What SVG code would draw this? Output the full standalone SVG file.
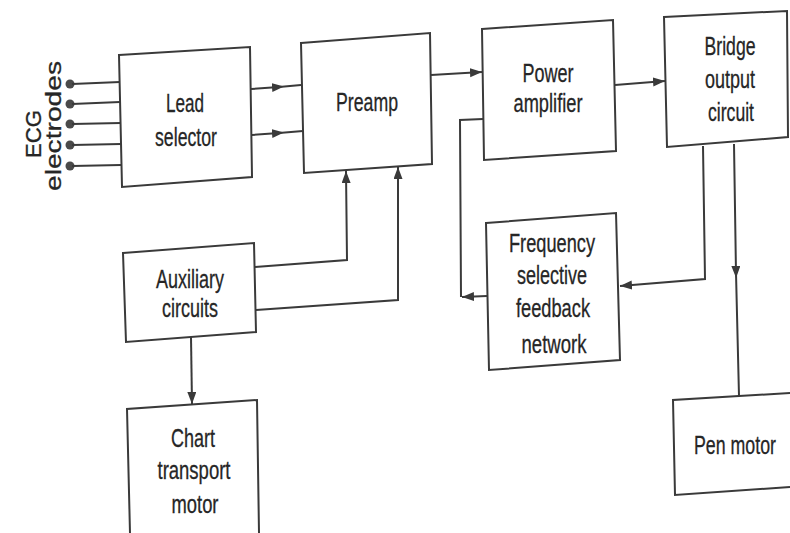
<svg xmlns="http://www.w3.org/2000/svg" width="790" height="533" viewBox="0 0 790 533">
<defs>
<marker id="arrow" markerUnits="userSpaceOnUse" markerWidth="14" markerHeight="10" refX="12" refY="4.5" orient="auto">
<path d="M0,0 L12,4.5 L0,9 z" fill="#3a3a3a"/>
</marker>
<marker id="arrowMid" markerUnits="userSpaceOnUse" markerWidth="14" markerHeight="10" refX="7" refY="4.5" orient="auto">
<path d="M0,0 L12,4.5 L0,9 z" fill="#3a3a3a"/>
</marker>
</defs>
<style>
.box{fill:#fff;stroke:#3a3a3a;stroke-width:2;stroke-linejoin:miter}
.ln{fill:none;stroke:#3a3a3a;stroke-width:2}
.t{font-family:"Liberation Sans",Arial,sans-serif;font-size:26px;fill:#262626;stroke:#262626;stroke-width:0.3;text-anchor:middle}
.v{font-family:"Liberation Sans",Arial,sans-serif;fill:#262626;stroke:#262626;stroke-width:0.3;text-anchor:middle}
.dot{fill:#4a4a4a}
</style>
<rect width="790" height="533" fill="#fff"/>

<g id="ecg-electrodes">
<text class="v" font-size="22" x="41" y="134" transform="rotate(-90 41 134)" textLength="48" lengthAdjust="spacingAndGlyphs">ECG</text>
<text class="v" font-size="22" x="61" y="126" transform="rotate(-90 61 126)" textLength="130" lengthAdjust="spacingAndGlyphs">electrodes</text>
<circle class="dot" cx="70" cy="84" r="4.5"/>
<circle class="dot" cx="70" cy="104" r="4.5"/>
<circle class="dot" cx="70" cy="124" r="4.5"/>
<circle class="dot" cx="70" cy="145" r="4.5"/>
<circle class="dot" cx="70" cy="166" r="4.5"/>
</g>

<g id="connectors">
<line class="ln" x1="72" y1="84" x2="120" y2="82"/>
<line class="ln" x1="72" y1="104" x2="120" y2="102"/>
<line class="ln" x1="72" y1="124" x2="121" y2="123"/>
<line class="ln" x1="72" y1="145" x2="121" y2="144"/>
<line class="ln" x1="72" y1="166" x2="121" y2="165"/>
<polyline class="ln" points="251,89 279,87 301,85" marker-mid="url(#arrowMid)"/>
<polyline class="ln" points="252,135 279,133 303,131" marker-mid="url(#arrowMid)"/>
<line class="ln" x1="431" y1="75" x2="482" y2="72" marker-end="url(#arrow)"/>
<line class="ln" x1="615" y1="85" x2="665" y2="81" marker-end="url(#arrow)"/>
<line class="ln" x1="487" y1="296" x2="462" y2="297" marker-end="url(#arrow)"/>
<polyline class="ln" points="461,297 460,120 483,119"/>
<polyline class="ln" points="703,146 705,279 620,286" marker-end="url(#arrow)"/>
<polyline class="ln" points="734,144 736,273 739,396" marker-mid="url(#arrowMid)"/>
<polyline class="ln" points="255,267 347,260 346,171" marker-end="url(#arrow)"/>
<polyline class="ln" points="256,310 398,300 398,167" marker-end="url(#arrow)"/>
<line class="ln" x1="191" y1="337" x2="192" y2="404" marker-end="url(#arrow)"/>
</g>

<g id="lead-selector">
<polygon class="box" points="119,55 250,47 252,177 122,187"/>
<text class="t" x="185" y="112" textLength="38" lengthAdjust="spacingAndGlyphs">Lead</text>
<text class="t" x="186" y="146" textLength="62" lengthAdjust="spacingAndGlyphs">selector</text>
</g>

<g id="preamp">
<polygon class="box" points="301,43 430,33 432,164 304,173"/>
<text class="t" x="367" y="111" textLength="62" lengthAdjust="spacingAndGlyphs">Preamp</text>
</g>

<g id="power-amplifier">
<polygon class="box" points="482,29 613,20 616,151 484,160"/>
<text class="t" x="548" y="82" textLength="51" lengthAdjust="spacingAndGlyphs">Power</text>
<text class="t" x="548" y="112" textLength="69" lengthAdjust="spacingAndGlyphs">amplifier</text>
</g>

<g id="bridge-output-circuit">
<polygon class="box" points="664,17 787,11 788,137 667,147"/>
<text class="t" x="730" y="55" textLength="51" lengthAdjust="spacingAndGlyphs">Bridge</text>
<text class="t" x="730" y="88" textLength="50" lengthAdjust="spacingAndGlyphs">output</text>
<text class="t" x="731" y="121" textLength="46" lengthAdjust="spacingAndGlyphs">circuit</text>
</g>

<g id="frequency-selective-feedback-network">
<polygon class="box" points="486,223 616,213 620,360 489,370"/>
<text class="t" x="552" y="252" textLength="86" lengthAdjust="spacingAndGlyphs">Frequency</text>
<text class="t" x="552" y="284" textLength="70" lengthAdjust="spacingAndGlyphs">selective</text>
<text class="t" x="553" y="317" textLength="74" lengthAdjust="spacingAndGlyphs">feedback</text>
<text class="t" x="554" y="353" textLength="65" lengthAdjust="spacingAndGlyphs">network</text>
</g>

<g id="auxiliary-circuits">
<polygon class="box" points="123,253 254,243 256,332 126,342"/>
<text class="t" x="190" y="288" textLength="68" lengthAdjust="spacingAndGlyphs">Auxiliary</text>
<text class="t" x="190" y="317" textLength="56" lengthAdjust="spacingAndGlyphs">circuits</text>
</g>

<g id="chart-transport-motor">
<path class="box" d="M130,533 L127,409 L257,400 L259,533"/>
<text class="t" x="193" y="447" textLength="44" lengthAdjust="spacingAndGlyphs">Chart</text>
<text class="t" x="194" y="479" textLength="73" lengthAdjust="spacingAndGlyphs">transport</text>
<text class="t" x="195" y="513" textLength="47" lengthAdjust="spacingAndGlyphs">motor</text>
</g>

<g id="pen-motor">
<path class="box" d="M790,393 L673,400 L675,495 L790,487"/>
<text class="t" x="735" y="454" textLength="82" lengthAdjust="spacingAndGlyphs">Pen motor</text>
</g>
</svg>
